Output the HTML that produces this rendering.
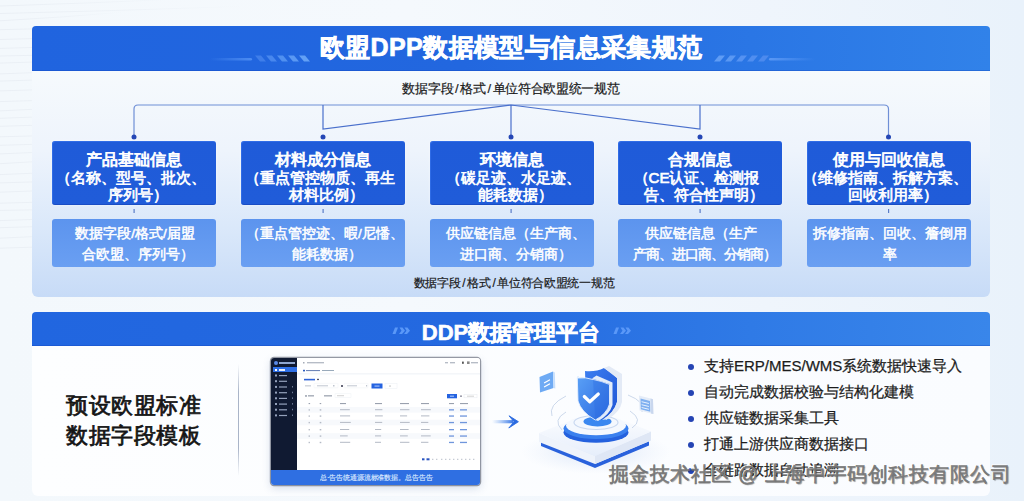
<!DOCTYPE html>
<html><head><meta charset="utf-8">
<style>
*{margin:0;padding:0;box-sizing:border-box}
html,body{width:1024px;height:501px;overflow:hidden}
body{position:relative;font-family:"Liberation Sans",sans-serif;background:linear-gradient(90deg,#f3f8fc 0%,#f5f9fd 40%,#eff5fc 75%,#e9f2fb 100%);color:#1b1b1b}
.abs{position:absolute}
.hdr{left:32px;width:958px;background:linear-gradient(90deg,#2064df 0%,#2267df 45%,#2a76e5 75%,#3182e9 100%);box-shadow:inset 0 -1px 0 rgba(20,70,190,.35);border-radius:4px 4px 0 0;color:#fff;font-weight:bold;text-align:center}
#h1{top:26px;height:45px;font-size:25px;line-height:43.5px;letter-spacing:0.4px;text-indent:0.4px;-webkit-text-stroke:0.7px #fff}
#p1{left:32px;top:71px;width:958px;height:226px;background:linear-gradient(180deg,#f6fafd 0%,#eef4fc 35%,#dae8fa 70%,#c7dbf7 100%);border-radius:0 0 6px 6px}
.sub{color:#1a1a1a;white-space:nowrap;text-align:center}
.tb{top:140.7px;width:164px;height:64.3px;background:linear-gradient(180deg,#1f5bd9,#205cd9);box-shadow:inset 1px 1px 0 rgba(80,140,255,.35),inset 0 -1px 0 rgba(20,60,170,.45),0 0 3px rgba(255,255,255,.6);border-radius:3px;color:#fff;font-weight:normal;text-align:center;font-size:15px;line-height:17px;padding-top:9px;-webkit-text-stroke:0.7px #fff;white-space:nowrap}
.tb b{display:block;font-size:16px;line-height:19px;font-weight:normal;-webkit-text-stroke:0.85px #fff}
.lb{top:219px;width:164px;height:48px;background:linear-gradient(180deg,#5c94ee,#6a9ff2);border-radius:3px;color:#fff;text-align:center;font-size:13.5px;line-height:21px;padding-top:4px;padding-left:2px;-webkit-text-stroke:0.5px #fff;white-space:nowrap}
#h2{background:linear-gradient(90deg,#2166e0 0%,#2469e0 45%,#2f7ae6 75%,#3986ea 100%);top:312px;height:34px;font-size:22px;line-height:41px;-webkit-text-stroke:0.6px #fff}
#p2{left:32px;top:346px;width:958px;height:150px;background:linear-gradient(90deg,#fdfeff,#fafcff);border-radius:0 0 6px 6px}
#bul div{position:relative;padding-left:18px}
#bul i{position:absolute;left:1.5px;top:10.5px;width:6px;height:6px;border-radius:50%;background:#2544b4}
.lp{margin-left:-7px}.rp{margin-right:-7px}
.lb .lp{margin-left:-6px}.lb .rp{margin-right:-6px}
.sl{margin:0 1.8px}
</style></head><body>
<svg class="abs" style="left:0;top:0" width="300" height="340"><defs><linearGradient id="sf" x1="0" x2="1"><stop offset="0" stop-color="#e4e9f0" stop-opacity=".6"/><stop offset="1" stop-color="#dde4ec" stop-opacity="0"/></linearGradient></defs><g fill="none" stroke="url(#sf)" stroke-width="1"><path d="M0 6.0 Q90 3.2 180 -1.0"/><path d="M0 13.5 Q120 10.7 241 6.4"/><path d="M0 20.8 Q62 17.4 123 12.2"/><path d="M0 29.7 Q90 27.7 179 24.7"/><path d="M0 39.5 Q129 36.3 258 31.3"/><path d="M0 48.4 Q79 46.4 158 43.3"/><path d="M0 56.0 Q126 53.7 253 50.1"/><path d="M0 63.1 Q68 61.2 136 58.3"/><path d="M0 73.9 Q65 71.7 130 68.4"/><path d="M0 81.1 Q94 78.5 188 74.7"/><path d="M0 90.9 Q110 87.9 219 83.4"/><path d="M0 101.6 Q110 98.6 221 94.0"/><path d="M0 110.9 Q77 107.6 154 102.5"/><path d="M0 118.3 Q77 115.7 154 111.8"/><path d="M0 126.3 Q116 123.2 231 118.5"/><path d="M0 136.8 Q114 134.2 227 130.2"/><path d="M0 145.3 Q104 142.6 209 138.6"/><path d="M0 153.9 Q90 150.5 179 145.4"/><path d="M0 163.7 Q64 160.4 127 155.4"/><path d="M0 174.6 Q80 171.6 161 167.1"/><path d="M0 182.9 Q129 179.5 258 174.4"/><path d="M0 192.2 Q87 189.3 174 185.0"/><path d="M0 203.2 Q94 201.0 188 197.7"/><path d="M0 210.4 Q122 208.6 243 206.0"/><path d="M0 220.6 Q112 217.2 225 212.1"/><path d="M0 227.7 Q114 224.6 229 219.9"/><path d="M0 238.2 Q66 235.4 131 231.2"/><path d="M0 248.2 Q108 245.2 216 240.6"/></g></svg>
<div class="abs hdr" id="h1">欧盟DPP数据模型与信息采集规范</div>
<div class="abs" id="p1"></div>

<div class="abs sub" style="left:311px;width:400px;top:80px;font-size:13px;line-height:18px;-webkit-text-stroke:0.2px #1a1a1a;letter-spacing:-0.3px">数据字段<span class="sl">/</span>格式<span class="sl">/</span>单位符合欧盟统一规范</div>

<svg class="abs" style="left:0;top:0" width="1024" height="300">
<g fill="none" stroke-width="1.2">
<path d="M134 137 V109 Q134 105 138 105 H884 Q888.5 105 888.5 109 V137" stroke="#6f8fd6"/>
<path d="M323 105 V129 L511 105 L700 129 V105" stroke="#4a70cc"/>
<path d="M511 105 V137" stroke="#4a70cc"/>
</g>
<g fill="#2446b5">
<circle cx="134" cy="137" r="2.5"/><circle cx="323" cy="137" r="2.5"/><circle cx="511" cy="137" r="2.5"/><circle cx="700" cy="137" r="2.5"/><circle cx="888.5" cy="137" r="2.5"/>
<g fill="#5a7cc8"><rect x="133.5" y="209" width="1.2" height="4"/><rect x="322.5" y="209" width="1.2" height="4"/><rect x="510.5" y="209" width="1.2" height="4"/><rect x="699.5" y="209" width="1.2" height="4"/><rect x="888" y="209" width="1.2" height="4"/></g>
</g>
</svg>

<div class="abs tb" style="left:52px"><b>产品基础信息</b><span class="lp">（</span>名称、型号、批次、<br>序列号<span class="rp">）</span></div>
<div class="abs tb" style="left:241px"><b>材料成分信息</b><span class="lp">（</span>重点管控物质、再生<br>材料比例<span class="rp">）</span></div>
<div class="abs tb" style="left:430px"><b>环境信息</b><span style="position:relative;left:5px"><span class="lp">（</span>碳足迹、水足迹、</span><br>能耗数据<span class="rp">）</span></div>
<div class="abs tb" style="left:618px"><b>合规信息</b><span class="lp">（</span>CE认证、检测报<br>告、符合性声明<span class="rp">）</span></div>
<div class="abs tb" style="left:807px"><b>使用与回收信息</b><span class="lp">（</span>维修指南、拆解方案、<br>回收利用率<span class="rp">）</span></div>

<div class="abs lb" style="left:52px">数据字段/格式/届盟<br>合欧盟、序列号<span class="rp">）</span></div>
<div class="abs lb" style="left:241px"><span style="position:relative;left:4px"><span class="lp">（</span>重点管控迹、暇/尼憣、</span><br>能耗数据<span class="rp">）</span></div>
<div class="abs lb" style="left:430px"><span style="position:relative;left:3px">供应链信息（生产商、</span><br>进口商、分销商<span class="rp">）</span></div>
<div class="abs lb" style="left:618px">供应链信息（生产<br><span style="letter-spacing:-1px">产商、进口商、分销商<span class="rp">）</span></span></div>
<div class="abs lb" style="left:807px">拆修指南、回收、簷倒用<br>率</div>

<div class="abs sub" style="left:314px;width:400px;top:275px;font-size:12px;line-height:17px;-webkit-text-stroke:0.2px #1a1a1a;letter-spacing:-0.3px">数据字段<span class="sl">/</span>格式<span class="sl">/</span>单位符合欧盟统一规范</div>

<div class="abs hdr" id="h2">DDP数据管理平台</div>
<div class="abs" id="p2"></div>
<svg class="abs" style="left:0;top:0" width="1024" height="350">
  <defs>
    <linearGradient id="dl" x1="0" x2="1"><stop offset="0" stop-color="#4c8cf2" stop-opacity="0"/><stop offset="1" stop-color="#4c8cf2"/></linearGradient>
    <linearGradient id="dr" x1="1" x2="0"><stop offset="0" stop-color="#5a98f5" stop-opacity="0"/><stop offset="1" stop-color="#5a98f5"/></linearGradient>
  </defs>
  <rect x="210" y="58" width="42" height="2.6" rx="1.3" fill="url(#dl)"/>
  <g>
    <path d="M255 55.5 H261 L266 61.5 H260 Z" fill="#3f7eea"/>
    <path d="M266 55.5 H272 L277 61.5 H271 Z" fill="#4887ee"/>
    <path d="M277 55.5 H283 L288 61.5 H282 Z" fill="#5090f0"/>
    <path d="M288 55.5 H294 L299 61.5 H293 Z" fill="#5a98f3"/>
    <path d="M299 55.5 H305 L310 61.5 H304 Z" fill="#63a0f5"/>
  </g>
  <g>
    <path d="M719 55.5 H725 L720 61.5 H714 Z" fill="#5f9cf5"/>
    <path d="M730 55.5 H736 L731 61.5 H725 Z" fill="#5a98f3"/>
    <path d="M741 55.5 H747 L742 61.5 H736 Z" fill="#5592f2"/>
    <path d="M752 55.5 H758 L753 61.5 H747 Z" fill="#508ef0"/>
    <path d="M763 55.5 H769 L764 61.5 H758 Z" fill="#4c8aee"/>
  </g>
  <rect x="769" y="58" width="46" height="2.6" rx="1.3" fill="url(#dr)"/>
  <g fill="#5a98f8">
    <path d="M395 327.5 H398 L395.5 334 H392.5 Z"/>
    <path d="M399.5 327.5 H402.5 L405 330.7 L402 334 H399 L401.5 330.7 Z"/>
    <path d="M404.5 327.5 H407.5 L410 330.7 L407 334 H404 L406.5 330.7 Z"/>
    <path d="M616 327.5 H619 L616.5 334 H613.5 Z"/>
    <path d="M620.5 327.5 H623.5 L626 330.7 L623 334 H620 L622.5 330.7 Z"/>
    <path d="M625.5 327.5 H628.5 L631 330.7 L628 334 H625 L627.5 330.7 Z"/>
  </g>
</svg>


<div class="abs" style="left:66px;top:391px;font-size:22px;letter-spacing:0.5px;line-height:30px;font-weight:normal;color:#151515;-webkit-text-stroke:0.75px #151515">预设欧盟标准<br>数据字段模板</div>
<div class="abs" style="left:237.5px;top:364px;width:1px;height:112px;background:linear-gradient(180deg,rgba(170,180,200,0),#a9b4c8 25%,#a9b4c8 75%,rgba(170,180,200,0))"></div>

<!-- mockup -->
<div class="abs" id="mock" style="left:271px;top:358px;width:209px;height:127px;background:#fff;border-radius:3px;box-shadow:0 0 0 1.2px rgba(85,90,105,.6),0 3px 8px rgba(60,90,150,.22);overflow:hidden">
  <div class="abs" style="left:0;top:0;width:26px;height:112px;background:#101a32"></div>
  <div class="abs" style="left:3px;top:3px;width:4px;height:4px;border-radius:50%;background:#5a8ae8"></div>
  <div class="abs" style="left:8px;top:4px;width:16px;height:2px;background:#8fa6cf"></div>
  <div class="abs" style="left:2px;top:9px;width:24px;height:5px;background:#2e6fe6"></div>
  <div class="abs" style="left:4px;top:10.5px;width:2px;height:2px;background:#fff"></div>
  <div class="abs" style="left:8px;top:11px;width:6px;height:1.5px;background:#e8eefc"></div>
  <svg class="abs" style="left:0;top:14px" width="26" height="50">
    <g fill="#94a1bb">
    <rect x="4" y="2.5" width="2" height="2"/><rect x="8" y="3" width="8" height="1.2"/>
    <rect x="4" y="8.2" width="2" height="2"/><rect x="8" y="8.7" width="8" height="1.2"/>
    <rect x="4" y="13.9" width="2" height="2"/><rect x="8" y="14.4" width="8" height="1.2"/>
    <rect x="4" y="19.6" width="2" height="2"/><rect x="8" y="20.1" width="8" height="1.2"/>
    <rect x="4" y="25.3" width="2" height="2"/><rect x="8" y="25.8" width="8" height="1.2"/>
    <rect x="4" y="31" width="2" height="2"/><rect x="8" y="31.5" width="8" height="1.2"/>
    <rect x="4" y="36.7" width="2" height="2"/><rect x="8" y="37.2" width="8" height="1.2"/>
    <rect x="4" y="42.4" width="2" height="2"/><rect x="8" y="42.9" width="8" height="1.2"/>
    </g>
    <g fill="#6d7a96"><rect x="21" y="14" width="1" height="1.5"/><rect x="21" y="19.7" width="1" height="1.5"/><rect x="21" y="25.4" width="1" height="1.5"/><rect x="21" y="31.1" width="1" height="1.5"/><rect x="21" y="36.8" width="1" height="1.5"/><rect x="21" y="42.5" width="1" height="1.5"/></g>
  </svg>
  <svg class="abs" style="left:26px;top:0" width="183" height="112"><rect x="0" y="0" width="183" height="112" fill="#fff"/><rect x="0" y="15.5" width="183" height="0.8" fill="#e9edf3"/><g fill="#a5acb8"><rect x="6" y="4" width="1.5" height="1.5"/><rect x="10" y="4.2" width="17" height="1.1"/><rect x="148" y="4.2" width="3" height="1.1"/><rect x="153" y="4.2" width="5" height="1.1"/><rect x="165" y="3.6" width="1.8" height="2.2" fill="#555"/><rect x="170" y="3.4" width="2.6" height="2.6" fill="#888"/><rect x="174" y="4.2" width="7" height="1.1"/></g><rect x="6" y="11.8" width="2" height="1.6" fill="#2c5cc0"/><rect x="9" y="12" width="14" height="1.1" fill="#6f86b8"/><rect x="25" y="12" width="12" height="1" fill="#9ab"/><rect x="7" y="20.8" width="11" height="1.6" fill="#2f63d6"/><rect x="20" y="20.8" width="2" height="1.3" fill="#556"/><g fill="#c0c6d0"><rect x="8" y="27.3" width="6" height="1.1"/><rect x="20" y="27.3" width="11" height="1"/><rect x="36" y="27" width="1.5" height="1.5"/><rect x="44" y="27" width="2" height="2" fill="#667"/><rect x="50" y="27.3" width="10" height="1"/><rect x="69" y="27" width="1.2" height="1.5"/></g><rect x="17" y="25.3" width="24" height="4.5" rx=".5" fill="none" stroke="#eef1f5" stroke-width=".5"/><rect x="47" y="25.3" width="24" height="4.5" rx=".5" fill="none" stroke="#eef1f5" stroke-width=".5"/><rect x="74.5" y="25.5" width="11" height="5" fill="#2563e0"/><rect x="77.5" y="27.6" width="5" height="0.9" fill="#c8dcff"/><rect x="88" y="25.5" width="12" height="5" fill="none" stroke="#eceff4" stroke-width=".5"/><rect x="92" y="27.6" width="2" height="0.9" fill="#bbb"/><g fill="#8c94a3"><rect x="8" y="37.3" width="2" height="1.3"/><rect x="11" y="37.3" width="6" height="1.1"/><rect x="27" y="37.3" width="8" height="1.1"/></g><rect x="38" y="35.8" width="16" height="3.5" fill="none" stroke="#eef1f5" stroke-width=".5"/><rect x="40" y="37.3" width="7" height="0.9" fill="#ccc"/><rect x="150" y="36" width="10" height="4.3" fill="#2563e0"/><rect x="153" y="37.7" width="4" height="0.9" fill="#c8dcff"/><rect x="163" y="37.5" width="2" height="1.3" fill="#889"/><rect x="167" y="36.3" width="13" height="3.5" fill="none" stroke="#e8ebf0" stroke-width=".5"/><rect x="170" y="37.7" width="7" height="0.9" fill="#ccc"/><g fill="#9aa1ae"><rect x="11.6" y="45.0" width="1.5" height="1.1"/><rect x="22.7" y="45.0" width="1.5" height="1.1"/><rect x="43" y="45.0" width="6" height="1.1"/><rect x="78" y="45.0" width="7" height="1.1"/><rect x="103" y="45.0" width="9" height="1.1"/><rect x="124" y="45.0" width="8" height="1.1"/><rect x="152" y="45.0" width="5" height="1.1"/><rect x="163" y="45.0" width="8" height="1.1"/></g><rect x="0" y="49.0" width="183" height="5.6" fill="#f7f9fc"/><rect x="0" y="61.7" width="183" height="5.6" fill="#f7f9fc"/><rect x="0" y="75.2" width="183" height="5.6" fill="#f7f9fc"/><g fill="#b4bac5"><rect x="11.6" y="51.2" width="1.3" height="1.4"/><rect x="22.7" y="51.2" width="1.6" height="1.4"/><rect x="43" y="51.2" width="9.8" height="1.0"/><rect x="78" y="51.2" width="7.4" height="1.0"/><rect x="103" y="51.2" width="9.4" height="1.0"/><rect x="124" y="51.2" width="9.8" height="1.0"/><rect x="11.6" y="57.4" width="1.3" height="1.4"/><rect x="22.7" y="57.4" width="1.6" height="1.4"/><rect x="43" y="57.4" width="10.1" height="1.0"/><rect x="78" y="57.4" width="7.8" height="1.0"/><rect x="103" y="57.4" width="7.1" height="1.0"/><rect x="124" y="57.4" width="8.4" height="1.0"/><rect x="11.6" y="63.9" width="1.3" height="1.4"/><rect x="22.7" y="63.9" width="1.6" height="1.4"/><rect x="43" y="63.9" width="10.8" height="1.0"/><rect x="78" y="63.9" width="7.2" height="1.0"/><rect x="103" y="63.9" width="9.7" height="1.0"/><rect x="124" y="63.9" width="7.3" height="1.0"/><rect x="11.6" y="71.0" width="1.3" height="1.4"/><rect x="22.7" y="71.0" width="1.6" height="1.4"/><rect x="43" y="71.0" width="9.2" height="1.0"/><rect x="78" y="71.0" width="6.2" height="1.0"/><rect x="103" y="71.0" width="8.6" height="1.0"/><rect x="124" y="71.0" width="8.7" height="1.0"/><rect x="11.6" y="77.4" width="1.3" height="1.4"/><rect x="22.7" y="77.4" width="1.6" height="1.4"/><rect x="43" y="77.4" width="7.7" height="1.0"/><rect x="78" y="77.4" width="6.1" height="1.0"/><rect x="103" y="77.4" width="7.8" height="1.0"/><rect x="124" y="77.4" width="9.7" height="1.0"/><rect x="11.6" y="83.8" width="1.3" height="1.4"/><rect x="22.7" y="83.8" width="1.6" height="1.4"/><rect x="43" y="83.8" width="10.2" height="1.0"/><rect x="78" y="83.8" width="6.0" height="1.0"/><rect x="103" y="83.8" width="9.4" height="1.0"/><rect x="124" y="83.8" width="7.4" height="1.0"/></g><g fill="#6f96dc"><rect x="152" y="51.2" width="5" height="1.3"/><rect x="163" y="51.2" width="7" height="1.3"/><rect x="152" y="57.4" width="5" height="1.3"/><rect x="163" y="57.4" width="7" height="1.3"/><rect x="152" y="63.9" width="5" height="1.3"/><rect x="163" y="63.9" width="7" height="1.3"/><rect x="152" y="71.0" width="5" height="1.3"/><rect x="163" y="71.0" width="7" height="1.3"/><rect x="152" y="77.4" width="5" height="1.3"/><rect x="163" y="77.4" width="7" height="1.3"/><rect x="152" y="83.8" width="5" height="1.3"/><rect x="163" y="83.8" width="7" height="1.3"/></g><g fill="#2a55c0"><rect x="125" y="100.3" width="2.5" height="2"/><rect x="129.5" y="100.3" width="3" height="2"/></g><g fill="#b9bfca"><rect x="135" y="100.8" width="1.4" height="1"/><rect x="139" y="100.8" width="1.4" height="1"/><rect x="144" y="100.8" width="1.4" height="1"/><rect x="148" y="100.8" width="1.4" height="1"/><rect x="152" y="100.8" width="1.4" height="1"/><rect x="156" y="100.8" width="1.4" height="1"/><rect x="160" y="100.8" width="1.4" height="1"/><rect x="164" y="100.8" width="1.4" height="1"/><rect x="168" y="100.8" width="1.4" height="1"/><rect x="172" y="100.8" width="1.4" height="1"/><rect x="176" y="100.8" width="1.4" height="1"/></g></svg>
  <div class="abs" style="left:0;top:112px;width:209px;height:15px;background:#2f6fe2"></div>
  <div class="abs" style="left:49px;top:114.5px;width:114px;height:10px;font-size:7px;line-height:10px;color:#dbe8ff;-webkit-text-stroke:0.15px #dbe8ff;white-space:nowrap;letter-spacing:-0.1px;overflow:hidden">总·告告统通源流标准数据。总告告告，总告告告告告。</div>
</div>
<!-- illustration -->
<svg class="abs" style="left:520px;top:355px" width="150" height="120" viewBox="520 355 150 120">
  <defs>
    <linearGradient id="shf" x1="0" y1="0" x2="1" y2="1"><stop offset="0" stop-color="#5aa0f6"/><stop offset="1" stop-color="#2a68e0"/></linearGradient>
    <linearGradient id="shb" x1="0" y1="0" x2="1" y2="1"><stop offset="0" stop-color="#3c7ef0"/><stop offset="1" stop-color="#1f55d6"/></linearGradient>
    <linearGradient id="slab" x1="0" y1="0" x2="0" y2="1"><stop offset="0" stop-color="#ffffff"/><stop offset="1" stop-color="#e6eefb"/></linearGradient>
    <radialGradient id="shadow" cx="0.5" cy="0.5" r="0.5"><stop offset="0" stop-color="#c9d9f3" stop-opacity=".7"/><stop offset="1" stop-color="#dfe9f8" stop-opacity="0"/></radialGradient>
  </defs>
  <ellipse cx="596" cy="452" rx="75" ry="22" fill="url(#shadow)"/>
  <!-- blue base band -->
  <path d="M541 441 L595 463 L649 440 L649 445.5 L595 468 L541 446 Z" fill="#2a62dc"/>
  <!-- white slab sides -->
  <path d="M539 433 L595 456 L651 431.5 L651 440.5 L595 464 L539 442 Z" fill="#eef3fb"/>
  <path d="M595 456 L651 431.5 L651 440.5 L595 464 Z" fill="#dfe7f5"/>
  <!-- top face -->
  <path d="M539 433 L597 410 L651 431.5 L595 456 Z" fill="url(#slab)"/>
  <!-- blue cylinder -->
  <ellipse cx="596" cy="432.5" rx="32.5" ry="10.2" fill="#2461de"/>
  <ellipse cx="596" cy="428.5" rx="32.5" ry="10.5" fill="#3a80ee"/>
  <ellipse cx="596" cy="425.5" rx="30" ry="9.8" fill="#f4f8fe"/>
  <ellipse cx="596" cy="422.5" rx="22" ry="7" fill="none" stroke="#c9d8f0" stroke-width="1.2"/>
  <ellipse cx="597.5" cy="421.5" rx="14" ry="5" fill="#3b88f0"/>
  <!-- arcs -->
  <g fill="none" stroke="#b8c8e2" stroke-width=".7">
    <path d="M566 396 Q548 405 552 416"/>
    <path d="M562 430 Q552 420 566 412"/>
    <path d="M628 395 Q646 402 642 412"/>
    <path d="M632 428 Q644 420 630 411"/>
  </g>
  <!-- back shield -->
  <path d="M604 369 L620 376 L620 402 Q618 413 606 420 L600 404 Z" fill="#dfe7f5"/>
  <path d="M585 371 Q596 372 604 368 Q612 373 617 378 L617 402 Q614 413 602 420 Q590 412 586 400 Z" fill="url(#shb)"/>
  <path d="M604 368 L609 366 L622 374 L622 402 Q620 412 608 419 L602 420 Q614 413 617 402 L617 378 Z" fill="#e3eaf6"/>
  <!-- front shield edge -->
  <path d="M592 378.5 L596.5 375.5 L612.5 382.5 L612.5 405 Q609.5 415 598 421 L595.5 420 Q606.5 413.5 609.5 404.5 L609.5 384 Z" fill="#e3ecfa"/>
  <!-- front shield -->
  <path d="M578.5 376.5 Q577 376.3 577.3 378 Q586 377 593 379.5 Q601 381 609.5 384.5 L609.5 404 Q606.5 414 595.3 420 Q581 412 578 401 L577.3 378" fill="url(#shf)" stroke="#e8f1ff" stroke-width="0.9"/>
  <path d="M593 379.8 Q601 381.3 609 384.8 L609 404 Q606 413.5 595.3 419.5 Z" fill="#2a6ae0" opacity=".35"/>
  <path d="M584.3 396.5 L589.8 401.8 L598.3 394" fill="none" stroke="#fff" stroke-width="3.2" stroke-linecap="round" stroke-linejoin="round"/>
  <!-- floating cards -->
  <path d="M539.5 377 L553 371.5 L553.5 388 L540 392.5 Z" fill="#6eaaf4"/>
  <path d="M553 371.5 L554.8 372.5 L555.3 388.5 L553.5 388 Z" fill="#c5defc"/>
  <g stroke="#fff" stroke-width="1.3" stroke-linecap="round"><path d="M544.5 382.8 L549.5 380"/><path d="M544.5 386.8 L549.5 384"/></g>
  <path d="M639 395.5 L652.5 399 L653 414 L639.5 410.5 Z" fill="#e4ecf8"/>
  <path d="M650.5 398.5 L653 399.3 L653.5 414 L651 413.4 Z" fill="#c9d7ee"/>
  <path d="M640.5 398.5 L650 401 L650.3 411.8 L640.8 409.2 Z" fill="#7fb0f0"/>
  <g stroke="#e9f2ff" stroke-width="1" stroke-linecap="round"><path d="M642 401.8 L648.5 403.4"/><path d="M642 404.8 L648.5 406.4"/><path d="M642 407.6 L648.5 409.2"/></g>
</svg>
<!-- arrow -->
<svg class="abs" style="left:486px;top:410px" width="40" height="24" viewBox="486 410 40 24">
  <defs><linearGradient id="ag" x1="0" x2="1"><stop offset="0" stop-color="#6aa0f0" stop-opacity="0"/><stop offset="1" stop-color="#3a78e6"/></linearGradient></defs>
  <rect x="492" y="420.1" width="21" height="3.2" fill="url(#ag)"/>
  <path d="M509 415.8 L518.4 421.7 L508.8 428 L514 421.8 Z" fill="#2a6ae0" stroke="#2a6ae0" stroke-width=".9" stroke-linejoin="round"/>
</svg>
<div class="abs" id="bul" style="left:686px;top:353px;font-size:15px;line-height:26px;color:#1c1c1c;-webkit-text-stroke:0.25px #1c1c1c;white-space:nowrap">
<div><i></i>支持ERP/MES/WMS系统数据快速导入</div>
<div><i></i>自动完成数据校验与结构化建模</div>
<div><i></i>供应链数据采集工具</div>
<div><i></i>打通上游供应商数据接口</div>
<div><i></i>全链路数据自动追溯</div>
</div>
<div class="abs" style="left:608.5px;top:461.5px;font-size:20px;letter-spacing:0.55px;line-height:24px;color:rgba(118,118,118,.92);-webkit-text-stroke:0.55px rgba(112,112,112,.92);text-shadow:0.8px 0.8px 0.8px rgba(40,40,40,.45),-1px -1px 0 rgba(255,255,255,.85);white-space:nowrap">掘金技术社区 @ 上海中宇码创科技有限公司</div>
</body></html>
